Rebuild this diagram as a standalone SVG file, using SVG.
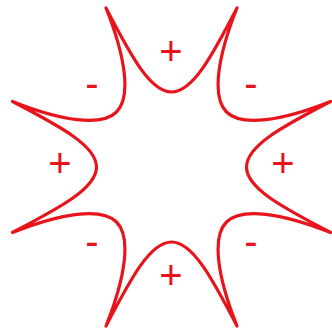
<svg xmlns="http://www.w3.org/2000/svg" width="332" height="330" viewBox="0 0 332 330">
  <style>
    .curve { fill: none; stroke: #e8141c; stroke-width: 3.2; stroke-linejoin: round; stroke-linecap: round; }
    .lbl { font-family: "Liberation Sans", Arial, sans-serif; font-size: 40px; fill: #e8141c; text-anchor: middle; }
  </style>
  <rect width="332" height="330" fill="#ffffff"/>
  <g id="curve" transform="translate(171.5,167)">
    <path class="curve" d="M -65.5,-159
      C -40,-110 -21,-75 0,-75
      C 21,-75 40,-110 65.5,-159
      C 46,-110 40,-70 55,-55
      C 70,-40 110,-46 159,-65.5
      C 110,-40 75,-21 75,0
      C 75,21 110,40 159,65.5
      C 110,46 70,40 55,55
      C 40,70 46,110 65.5,159
      C 40,110 21,75 0,75
      C -21,75 -40,110 -65.5,159
      C -46,110 -40,70 -55,55
      C -70,40 -110,46 -159,65.5
      C -110,40 -75,21 -75,0
      C -75,-21 -110,-40 -159,-65.5
      C -110,-46 -70,-40 -55,-55
      C -40,-70 -46,-110 -65.5,-159 Z"/>
  </g>
  <g id="labels">
    <text class="lbl" x="171" y="65.4">+</text>
    <text class="lbl" x="283" y="177.4">+</text>
    <text class="lbl" x="171" y="289.4">+</text>
    <text class="lbl" x="60" y="177.4">+</text>
    <text class="lbl" x="92" y="96.6">-</text>
    <text class="lbl" x="251" y="96.6">-</text>
    <text class="lbl" x="92" y="254.6">-</text>
    <text class="lbl" x="251" y="254.6">-</text>
  </g>
</svg>
